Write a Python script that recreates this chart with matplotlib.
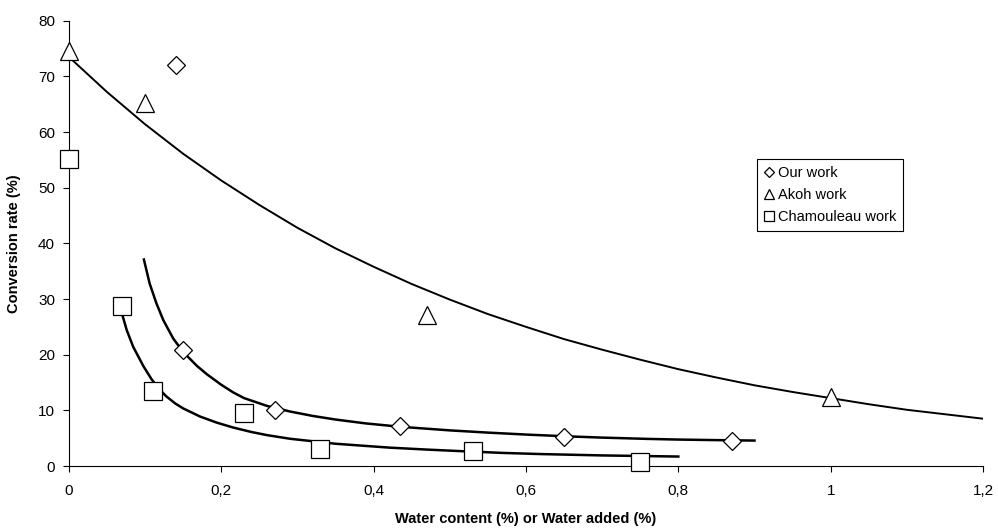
import matplotlib.pyplot as plt
from matplotlib.ticker import FuncFormatter

plt.rcParams["font.family"] = ["Liberation Sans", "DejaVu Sans"]

# measured points
our_x = [0.14, 0.15, 0.27, 0.435, 0.65, 0.87]
our_y = [72.0, 20.9, 10.0, 7.1, 5.3, 4.5]

akoh_x = [0.0, 0.10, 0.47, 1.0]
akoh_y = [74.6, 65.2, 27.1, 12.4]

cham_x = [0.0, 0.07, 0.11, 0.23, 0.33, 0.53, 0.75]
cham_y = [55.1, 28.7, 13.5, 9.5, 3.1, 2.7, 0.8]

# trend curves
our_trend_x = [0.0985, 0.106, 0.115, 0.124, 0.137, 0.15, 0.168, 0.181, 0.20, 0.216,
               0.23, 0.26, 0.29, 0.32, 0.35, 0.39, 0.435, 0.5, 0.55, 0.6,
               0.65, 0.7, 0.76, 0.8, 0.85, 0.9]
our_trend_y = [37.1, 32.8, 29.2, 26.2, 22.9, 20.5, 18.0, 16.5, 14.6, 13.2,
               12.2, 10.8, 9.8, 9.0, 8.35, 7.65, 7.05, 6.4, 6.0, 5.65,
               5.35, 5.1, 4.87, 4.75, 4.65, 4.57]

akoh_trend_x = [0.0, 0.05, 0.1, 0.15, 0.2, 0.25, 0.3, 0.35, 0.4, 0.45, 0.5, 0.55, 0.6,
                0.65, 0.7, 0.75, 0.8, 0.85, 0.9, 0.95, 1.0, 1.05, 1.1, 1.15, 1.2]
akoh_trend_y = [73.5, 67.2, 61.4, 56.1, 51.3, 46.9, 42.8, 39.1, 35.8, 32.7, 29.9, 27.3, 25.0,
                22.8, 20.9, 19.1, 17.4, 15.9, 14.5, 13.3, 12.2, 11.1, 10.1, 9.3, 8.5]

cham_trend_x = [0.069, 0.076, 0.0845, 0.098, 0.1085, 0.118, 0.128, 0.14, 0.15, 0.172,
                0.194, 0.216, 0.24, 0.26, 0.29, 0.35, 0.421, 0.47, 0.518,
                0.57, 0.618, 0.7, 0.8]
cham_trend_y = [27.7, 24.4, 21.4, 17.9, 15.6, 13.9, 12.5, 11.2, 10.35, 8.9,
                7.8, 6.9, 6.1, 5.55, 4.9, 4.0, 3.3, 2.95, 2.65,
                2.35, 2.15, 1.9, 1.7]

x_ticks = [0, 0.2, 0.4, 0.6, 0.8, 1.0, 1.2]
y_ticks = [0, 10, 20, 30, 40, 50, 60, 70, 80]


def comma(v, pos):
    s = f"{v:g}"
    return s.replace(".", ",")


fig = plt.figure(figsize=(9.98, 5.31), dpi=100)
ax = fig.add_axes([0.069, 0.1224, 0.916, 0.8386])

ax.plot(akoh_trend_x, akoh_trend_y, color="black", lw=1.4, zorder=2)
ax.plot(our_trend_x, our_trend_y, color="black", lw=1.8, zorder=2)
ax.plot(cham_trend_x, cham_trend_y, color="black", lw=1.8, zorder=2)

mk = dict(linestyle="none", markerfacecolor="white", markeredgecolor="black",
          markeredgewidth=0.9, clip_on=False, zorder=3)
ax.plot(our_x, our_y, marker="D", markersize=9.5, label="Our work", **mk)
ax.plot(akoh_x, akoh_y, marker="^", markersize=13.5, label="Akoh work", **mk)
ax.plot(cham_x, cham_y, marker="s", markersize=12.5, label="Chamouleau work", **mk)

ax.set_xlim(0, 1.2)
ax.set_ylim(0, 80)
ax.set_xticks(x_ticks)
ax.set_yticks(y_ticks)
ax.xaxis.set_major_formatter(FuncFormatter(comma))

for side in ["top", "right"]:
    ax.spines[side].set_visible(False)
for side in ["left", "bottom"]:
    ax.spines[side].set_linewidth(0.8)
ax.tick_params(direction="out", length=4, width=0.8, labelsize=11, colors="black", pad=6)
ax.tick_params(axis="x", pad=9)

ax.set_xlabel("Water content (%) or Water added (%)", fontsize=10.5, fontweight="bold", labelpad=10)
ax.set_ylabel("Conversion rate (%)", fontsize=10.5, fontweight="bold", labelpad=12)

leg = ax.legend(loc="upper left", bbox_to_anchor=(0.745, 0.705), fontsize=10.5,
                markerscale=0.55, handlelength=0.7, handletextpad=0.25,
                borderpad=0.45, labelspacing=0.55, fancybox=False, framealpha=1)
leg.get_frame().set_edgecolor("black")
leg.get_frame().set_linewidth(0.8)

fig.savefig("out.png", dpi=100)
